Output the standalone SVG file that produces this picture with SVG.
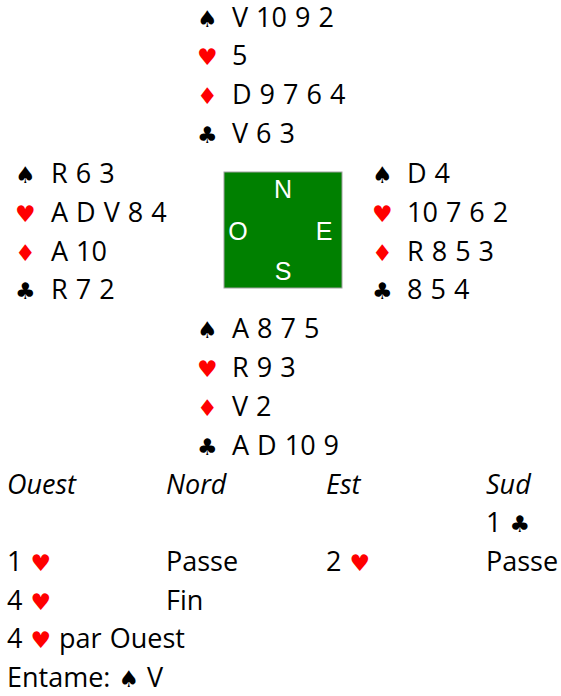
<svg xmlns="http://www.w3.org/2000/svg" width="561" height="696" viewBox="0 0 561 696">
<style>
text{font-family:"Open Sans","Noto Sans",sans-serif;font-size:27px;word-spacing:1px;fill:#000}
.s{font-family:"DejaVu Sans",sans-serif;font-size:23px;word-spacing:0}
.r{fill:#ff0000}
.b{fill:#000}
.it{font-style:italic}
.c{font-family:"Liberation Sans",Arial,sans-serif;font-size:25px;fill:#fff;text-anchor:middle}
</style>
<rect width="561" height="696" fill="#fff"/>
<g id="north">
<text x="197" y="27" class="s b">♠</text><text x="232" y="27">V 10 9 2</text>
<text x="197" y="65" class="s r">♥</text><text x="232" y="65">5</text>
<text x="197" y="104" class="s r">♦</text><text x="232" y="104">D 9 7 6 4</text>
<text x="197" y="143" class="s b">♣</text><text x="232" y="143">V 6 3</text>
</g>
<g id="west">
<text x="15" y="183" class="s b">♠</text><text x="51" y="183">R 6 3</text>
<text x="15" y="222" class="s r">♥</text><text x="51" y="222">A D V 8 4</text>
<text x="15" y="261" class="s r">♦</text><text x="51" y="261">A 10</text>
<text x="15" y="299" class="s b">♣</text><text x="51" y="299">R 7 2</text>
</g>
<g id="east">
<text x="372" y="183" class="s b">♠</text><text x="407" y="183">D 4</text>
<text x="372" y="222" class="s r">♥</text><text x="407" y="222">10 7 6 2</text>
<text x="372" y="261" class="s r">♦</text><text x="407" y="261">R 8 5 3</text>
<text x="372" y="299" class="s b">♣</text><text x="407" y="299">8 5 4</text>
</g>
<g id="south">
<text x="197" y="338" class="s b">♠</text><text x="232" y="338">A 8 7 5</text>
<text x="197" y="377" class="s r">♥</text><text x="232" y="377">R 9 3</text>
<text x="197" y="416" class="s r">♦</text><text x="232" y="416">V 2</text>
<text x="197" y="455" class="s b">♣</text><text x="232" y="455">A D 10 9</text>
</g>
<g id="table">
<rect x="224" y="172" width="118" height="116" fill="#008000" stroke="#a0a0a0" stroke-width="1"/>
<text x="283" y="198" class="c">N</text>
<text x="238" y="240" class="c">O</text>
<text x="324" y="240" class="c">E</text>
<text x="283" y="280" class="c">S</text>
</g>
<g id="bidding">
<text x="7" y="494" class="it">Ouest</text>
<text x="166" y="494" class="it">Nord</text>
<text x="326" y="494" class="it">Est</text>
<text x="486" y="494" class="it">Sud</text>
<text x="486" y="532">1 <tspan class="s b">♣</tspan></text>
<text x="7" y="571">1 <tspan class="s r">♥</tspan></text>
<text x="166" y="571">Passe</text>
<text x="326" y="571">2 <tspan class="s r">♥</tspan></text>
<text x="486" y="571">Passe</text>
<text x="7" y="610">4 <tspan class="s r">♥</tspan></text>
<text x="166" y="610">Fin</text>
<text x="7" y="648">4 <tspan class="s r">♥</tspan> par Ouest</text>
<text x="7" y="687">Entame: <tspan class="s b">♠</tspan> V</text>
</g>
</svg>
